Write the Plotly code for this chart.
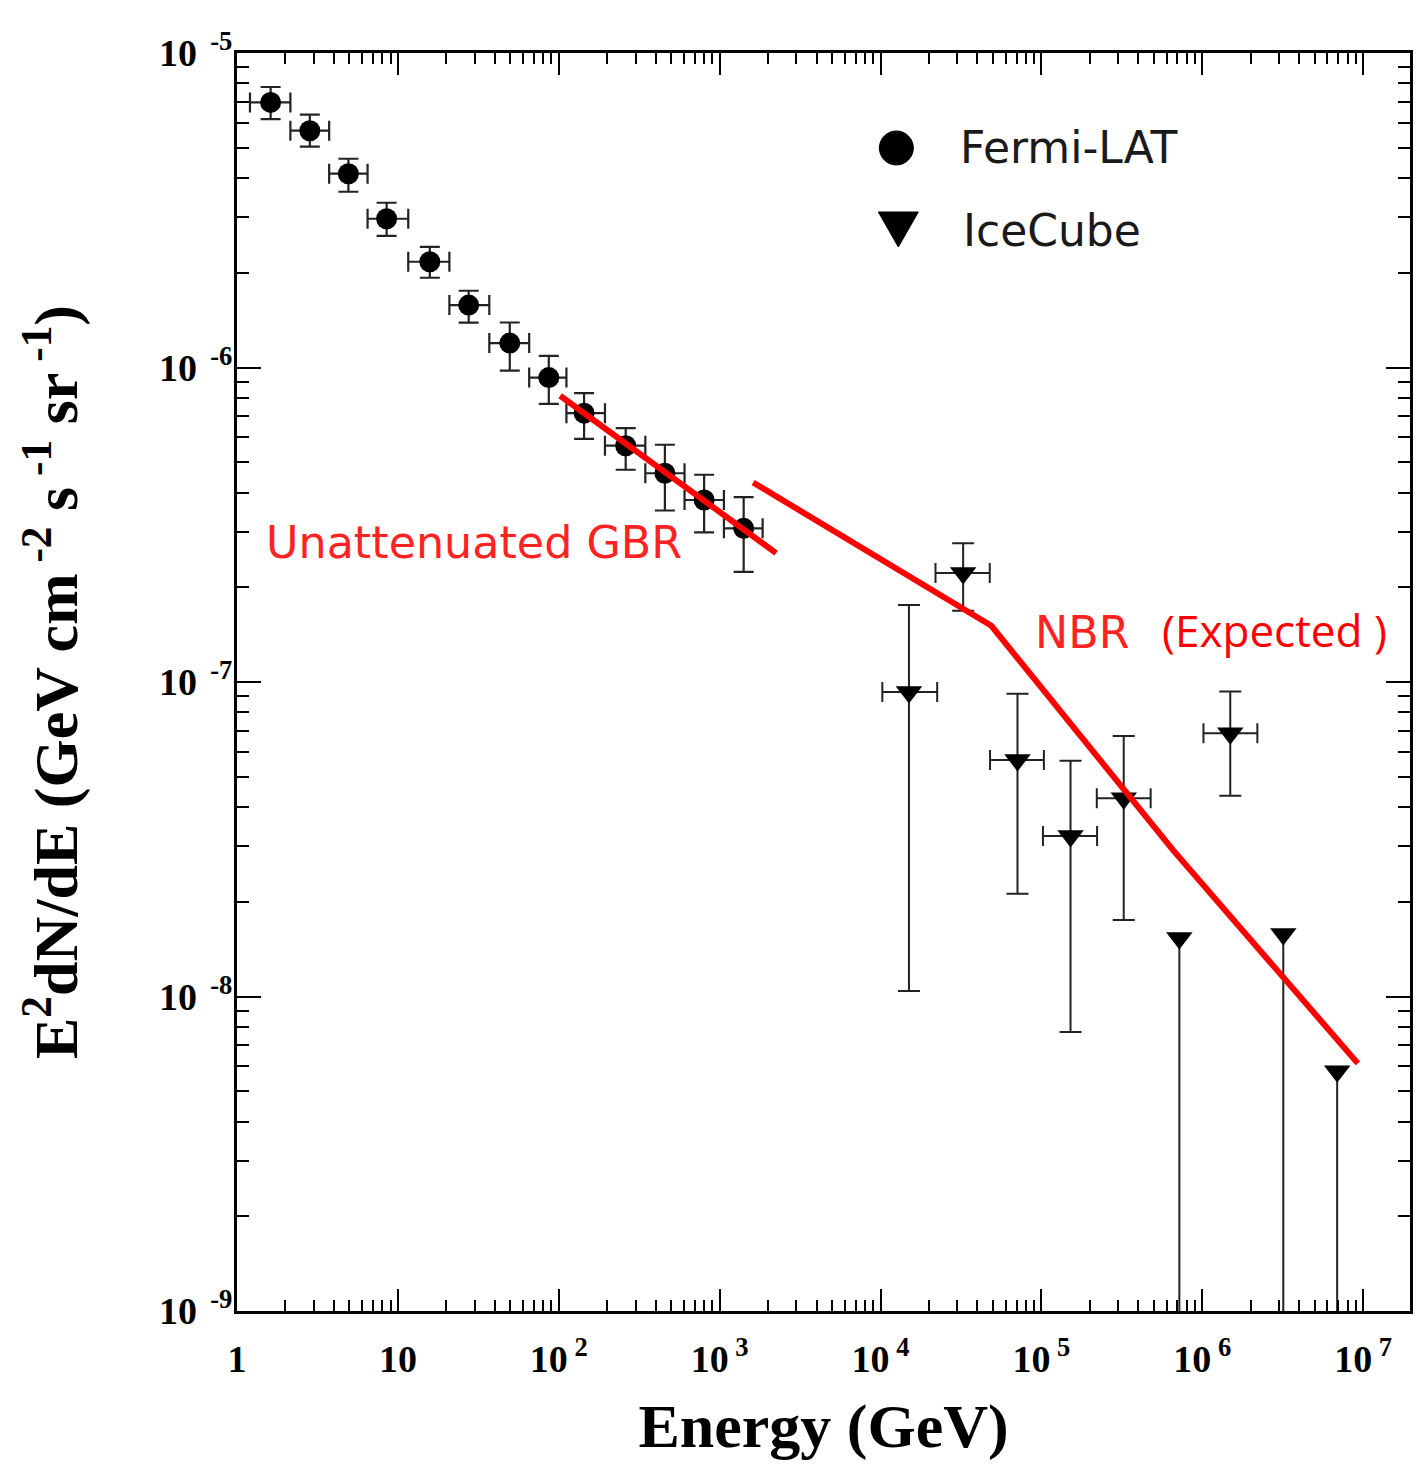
import plotly.graph_objects as go

# ---------------- data ----------------
fermi_E = [1.618, 2.835, 4.925, 8.51, 15.79, 27.55, 49.6, 86.7, 143.7, 260.6, 456.6, 800.7, 1410]
fermi_Elo = [1.204, 2.147, 3.740, 6.48, 11.6, 20.9, 37.0, 65.5, 111.6, 193.7, 345.2, 605, 1063]
fermi_Ehi = [2.147, 3.740, 6.48, 11.6, 20.9, 37.0, 65.5, 111.6, 193.7, 345.2, 605, 1063, 1850]
fermi_flux = [6.966e-6, 5.661e-6, 4.132e-6, 2.972e-6, 2.169e-6, 1.579e-6, 1.196e-6,
              9.29e-7, 7.16e-7, 5.64e-7, 4.61e-7, 3.79e-7, 3.08e-7]
fermi_hi = [7.796e-6, 6.365e-6, 4.611e-6, 3.341e-6, 2.420e-6, 1.754e-6, 1.390e-6,
            1.089e-6, 8.29e-7, 6.42e-7, 5.68e-7, 4.56e-7, 3.87e-7]
fermi_lo = [6.166e-6, 5.035e-6, 3.621e-6, 2.623e-6, 1.929e-6, 1.388e-6, 9.78e-7,
            7.66e-7, 5.93e-7, 4.73e-7, 3.51e-7, 2.99e-7, 2.24e-7]

ice_E = [15020, 32620, 71000, 151700, 324800, 1.492e6]
ice_Elo = [10260, 21960, 47940, 102200, 220900, 1.017e6]
ice_Ehi = [22500, 47730, 103600, 221800, 477500, 2.199e6]
ice_flux = [9.30e-8, 2.223e-7, 5.65e-8, 3.24e-8, 4.27e-8, 6.87e-8]
ice_hi = [1.758e-7, 2.763e-7, 9.17e-8, 5.62e-8, 6.74e-8, 9.32e-8]
ice_lo = [1.041e-8, 1.686e-7, 2.12e-8, 7.71e-9, 1.751e-8, 4.35e-8]

ice_ul_E = [7.2e5, 3.187e6, 6.89e6]
ice_ul_flux = [1.535e-8, 1.581e-8, 5.79e-9]

gbr_E = [102, 2243]
gbr_flux = [8.13e-7, 2.57e-7]
nbr_E = [1616, 48850, 6.58e5, 9.26e6]
nbr_flux = [4.31e-7, 1.509e-7, 2.92e-8, 6.13e-9]

x_ticks = [1, 10, 1e2, 1e3, 1e4, 1e5, 1e6, 1e7]
x_ticktext = ["1", "10", "10<sup> 2</sup>", "10<sup> 3</sup>", "10<sup> 4</sup>",
              "10<sup> 5</sup>", "10<sup> 6</sup>", "10<sup> 7</sup>"]
y_ticks = [1e-9, 1e-8, 1e-7, 1e-6, 1e-5]
y_ticktext = ["10<sup>  -9</sup>", "10<sup>  -8</sup>", "10<sup>  -7</sup>",
              "10<sup>  -6</sup>", "10<sup>  -5</sup>"]

Y_MIN_EXP, Y_MAX_EXP = -9, -5
X_MIN_EXP, X_MAX_EXP = 0, 7.291

# ---------------- figure ----------------
ERR = "#222222"
fig = go.Figure()

fig.add_trace(go.Scatter(
    x=fermi_E, y=fermi_flux, mode="markers", name="Fermi-LAT",
    marker=dict(symbol="circle", size=21, color="black"),
    error_y=dict(type="data", symmetric=False,
                 array=[h - v for h, v in zip(fermi_hi, fermi_flux)],
                 arrayminus=[v - l for l, v in zip(fermi_lo, fermi_flux)],
                 color=ERR, thickness=2.2, width=10),
    error_x=dict(type="data", symmetric=False,
                 array=[h - v for h, v in zip(fermi_Ehi, fermi_E)],
                 arrayminus=[v - l for l, v in zip(fermi_Elo, fermi_E)],
                 color=ERR, thickness=2.2, width=10),
))

fig.add_trace(go.Scatter(
    x=ice_E, y=ice_flux, mode="markers", name="IceCube",
    marker=dict(symbol="triangle-down", size=23, color="black"),
    error_y=dict(type="data", symmetric=False,
                 array=[h - v for h, v in zip(ice_hi, ice_flux)],
                 arrayminus=[v - l for l, v in zip(ice_lo, ice_flux)],
                 color=ERR, thickness=2, width=11),
    error_x=dict(type="data", symmetric=False,
                 array=[h - v for h, v in zip(ice_Ehi, ice_E)],
                 arrayminus=[v - l for l, v in zip(ice_Elo, ice_E)],
                 color=ERR, thickness=2, width=10),
))

# upper limits: line down to the bottom of the axis
ul_x, ul_y = [], []
for e, f in zip(ice_ul_E, ice_ul_flux):
    ul_x += [e, e, None]
    ul_y += [f, 10 ** Y_MIN_EXP, None]
fig.add_trace(go.Scatter(x=ul_x, y=ul_y, mode="lines",
                         line=dict(color=ERR, width=2), hoverinfo="skip"))
fig.add_trace(go.Scatter(x=ice_ul_E, y=ice_ul_flux, mode="markers",
                         marker=dict(symbol="triangle-down", size=23, color="black")))

fig.add_trace(go.Scatter(x=gbr_E, y=gbr_flux, mode="lines",
                         line=dict(color="#ff0000", width=6), name="Unattenuated GBR"))
fig.add_trace(go.Scatter(x=nbr_E, y=nbr_flux, mode="lines",
                         line=dict(color="#ff0000", width=6), name="NBR (Expected)"))

tickfont = dict(family="Liberation Serif", size=38, color="black", weight="bold")
titlefont = dict(family="Liberation Serif", size=62, color="black", weight="bold")

def minor_vals(lo, hi):
    vals = []
    for k in range(lo, hi + 1):
        for m in range(2, 10):
            vals.append(m * 10 ** k)
    return vals

fig.update_xaxes(
    type="log", range=[X_MIN_EXP, X_MAX_EXP],
    tickmode="array", tickvals=x_ticks, ticktext=x_ticktext,
    ticks="inside", ticklen=22, tickwidth=2, tickcolor="black",
    minor=dict(tickmode="array", tickvals=minor_vals(0, 7), ticks="inside",
               ticklen=11, tickwidth=2, tickcolor="black", showgrid=False),
    showline=True, linewidth=3, linecolor="black", mirror="ticks",
    showgrid=False, zeroline=False, tickfont=tickfont,
    ticklabelstandoff=12,
    title=dict(text="Energy (GeV)", font=titlefont, standoff=26),
)
fig.update_yaxes(
    type="log", range=[Y_MIN_EXP, Y_MAX_EXP],
    tickmode="array", tickvals=y_ticks, ticktext=y_ticktext,
    ticks="inside", ticklen=24, tickwidth=2, tickcolor="black",
    minor=dict(tickmode="array", tickvals=minor_vals(-9, -6), ticks="inside",
               ticklen=12, tickwidth=2, tickcolor="black", showgrid=False),
    showline=True, linewidth=3, linecolor="black", mirror="ticks",
    showgrid=False, zeroline=False, tickfont=tickfont,
    ticklabelstandoff=-6,
    title=dict(text="E<sup>2</sup>dN/dE (GeV cm<sup> -2</sup> s<sup> -1</sup> sr<sup> -1</sup>)",
               font=titlefont, standoff=62),
)

# legend drawn as key shapes + text
fig.add_shape(type="circle", xref="paper", yref="paper", xsizemode="pixel", ysizemode="pixel",
              xanchor=0.5621, yanchor=0.9245, x0=-17, x1=17, y0=-17, y1=17,
              fillcolor="black", line=dict(color="black", width=1))
fig.add_shape(type="path", xref="paper", yref="paper", xsizemode="pixel", ysizemode="pixel",
              xanchor=0.5638, yanchor=0.8609, path="M-20,16 L20,16 L0,-19 Z",
              fillcolor="black", line=dict(color="black", width=1))
legfont = dict(family="DejaVu Sans", size=44, color="#1a1a1a")
fig.add_annotation(text="Fermi-LAT", xref="paper", yref="paper", x=0.6148, y=0.9245,
                   xanchor="left", yanchor="middle", showarrow=False, font=legfont)
fig.add_annotation(text="IceCube", xref="paper", yref="paper", x=0.6173, y=0.8593,
                   xanchor="left", yanchor="middle", showarrow=False, font=legfont)

redfont = dict(family="DejaVu Sans", size=44.4, color="#ff2222")
fig.add_annotation(text="Unattenuated GBR", xref="paper", yref="paper", x=0.0230, y=0.6105,
                   xanchor="left", yanchor="middle", showarrow=False, font=redfont)
fig.add_annotation(text="NBR", xref="paper", yref="paper", x=0.6790, y=0.5397,
                   xanchor="left", yanchor="middle", showarrow=False, font=redfont)
fig.add_annotation(text="(Expected )", xref="paper", yref="paper", x=0.7866, y=0.5413,
                   xanchor="left", yanchor="middle", showarrow=False,
                   font=dict(family="Open Sans", size=44, color="#ff0000"))

fig.update_layout(
    width=1421, height=1467,
    margin=dict(l=237, r=8, t=53, b=156),
    paper_bgcolor="white", plot_bgcolor="white",
    showlegend=False,
)

fig.write_html("out.html")
